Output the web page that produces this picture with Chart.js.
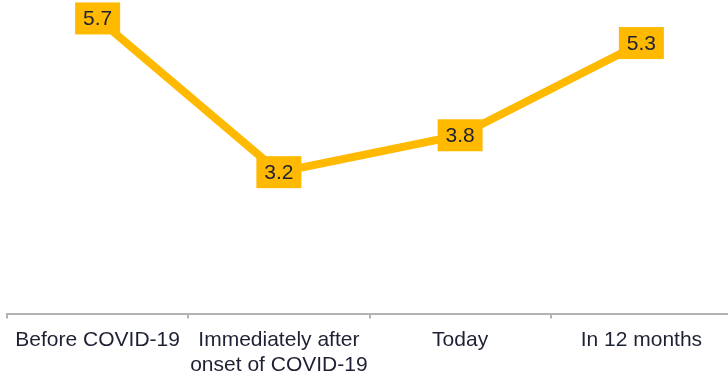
<!DOCTYPE html>
<html>
<head>
<meta charset="utf-8">
<script src="https://cdn.jsdelivr.net/npm/chart.js@4/dist/chart.umd.min.js"></script>
<style>
    html, body { margin: 0; padding: 0; background: #fff; overflow: hidden; }
    #wrap { width: 732px; height: 387px; }
</style>
</head>
<body>
<div id="wrap"><canvas id="sentiment-chart"></canvas></div>
<script>
var categories = [["Before COVID-19"], ["Immediately after", "onset of COVID-19"], ["Today"], ["In 12 months"]];
var scores = [5.7, 3.2, 3.8, 5.3];
var yMin = 0.9;
var yMax = 6.0;

var lineColor = '#FFB900';
var textColor = '#1e2133';

// draws a filled box with the value on top of every point
var valueBoxes = {
    id: 'valueBoxes',
    afterDatasetsDraw: function (chart) {
        var ctx = chart.ctx;
        var meta = chart.getDatasetMeta(0);
        ctx.save();
        ctx.font = '21px "Liberation Sans", Arial, sans-serif';
        ctx.textAlign = 'center';
        ctx.textBaseline = 'middle';
        meta.data.forEach(function (pt, i) {
            var w = 45, h = 32;
            ctx.fillStyle = lineColor;
            ctx.fillRect(pt.x - w / 2, pt.y - h / 2, w, h);
            ctx.fillStyle = textColor;
            ctx.fillText(scores[i].toFixed(1), pt.x, pt.y + 1);
        });
        ctx.restore();
    }
};

new Chart(document.getElementById('sentiment-chart'), {
    type: 'line',
    data: {
        labels: categories,
        datasets: [{
            data: scores,
            borderColor: lineColor,
            borderWidth: 8,
            tension: 0,
            pointRadius: 0,
            fill: false,
            clip: false
        }]
    },
    options: {
        responsive: true,
        maintainAspectRatio: false,
        animation: false,
        layout: { padding: { left: 7, right: 0, top: 0, bottom: 0 } },
        plugins: {
            legend: { display: false },
            tooltip: { enabled: false }
        },
        scales: {
            x: {
                offset: true,
                grid: {
                    offset: true,
                    drawOnChartArea: false,
                    drawTicks: true,
                    tickLength: 5,
                    color: '#b3b3b3',
                    lineWidth: 2
                },
                border: { display: true, color: '#b3b3b3', width: 2 },
                ticks: {
                    color: textColor,
                    padding: 9,
                    maxRotation: 0,
                    autoSkip: false,
                    font: { family: '"Liberation Sans", Arial, sans-serif', size: 21, lineHeight: 1.2 }
                }
            },
            y: {
                display: false,
                min: yMin,
                max: yMax
            }
        }
    },
    plugins: [valueBoxes]
});
</script>
</body>
</html>
